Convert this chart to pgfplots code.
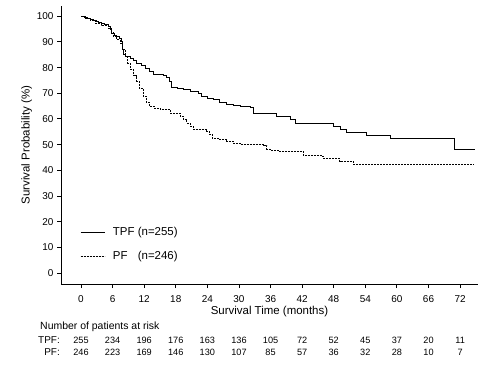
\documentclass[border=0pt]{standalone}
\usepackage{fontspec}
\setmainfont{Liberation Sans}
\usepackage{pgfplots}
\pgfplotsset{compat=1.18}
\begin{document}
\begin{tikzpicture}[x=1bp,y=1bp]
\useasboundingbox (0,0) rectangle (491,368);
\begin{axis}[
  at={(61bp,84bp)}, anchor=south west,
  scale only axis, width=417bp, height=278bp,
  xmin=-3.8, xmax=75.4, ymin=-4.3, ymax=104,
  axis x line*=bottom, axis y line*=left,
  axis line style={line width=0.9bp, black},
  xtick={0,6,...,72}, ytick={0,10,...,100},
  tick align=outside, major tick length=4bp,
  tick style={line width=0.9bp, black},
  ticklabel style={font=\fontsize{10}{11}\selectfont},
  xticklabel style={yshift=-4bp},
  /pgf/number format/assume math mode=true,
  xlabel={Survival Time (months)}, ylabel={Survival Probability (\%)},
  label style={font=\fontsize{11.5}{13}\selectfont},
  xlabel style={yshift=3bp},
  ylabel style={yshift=-2bp},
  clip=false,
  legend style={at={(axis cs:-0.2,18.5)}, anchor=north west, draw=none, fill=none,
    inner sep=0pt, row sep=10bp, font=\fontsize{11.5}{13}\selectfont, cells={anchor=west}},
  legend image code/.code={\draw[#1] (0bp,0bp) -- (24bp,0bp); \path (30bp,0bp);},
]
\addplot[const plot, black, line width=0.85bp] coordinates {
(0,100) (0.6,99.6) (1.2,99.2) (1.7,98.9) (2.3,98.4) (2.9,98.0) (3.4,97.6) (3.9,97.3)
(4.5,96.8) (5.2,96.0) (5.5,94.8) (5.8,93.2) (6.3,92.6) (6.8,92.1) (7.3,91.2) (7.7,90.2)
(7.8,88.5) (7.9,87.0) (8.0,85.2) (8.5,84.4) (9.3,83.7) (10.0,82.8) (10.6,81.8) (11.4,80.8)
(12.2,79.8) (12.9,78.5) (13.7,77.2) (15.6,76.8) (16.3,76.0) (16.8,74.5) (17.2,72.1)
(18.4,71.7) (19.4,71.4) (20.8,70.8) (22.3,70.1) (22.9,68.6) (24.0,68.0) (25.1,67.5)
(26.3,66.6) (27.7,65.8) (29.0,65.2) (30.2,64.9) (32.1,64.3) (32.7,62.3) (37.2,61.0)
(39.7,59.7) (40.7,58.4) (47.9,57.1) (49.2,56.1) (50.5,54.8) (54.3,53.6) (58.8,52.3)
(71.0,48.1) (74.8,48.1)
};
\addlegendentry{TPF (n=255)}
\addplot[const plot, black, line width=0.85bp, dash pattern=on 2bp off 1bp] coordinates {
(0,100) (0.8,99.3) (1.7,98.4) (2.7,97.3) (3.8,96.5) (5.2,95.4) (5.7,93.8) (6.1,92.1)
(6.8,90.8) (7.4,89.6) (7.9,87.0) (8.4,84.4) (8.9,81.8) (9.3,79.2) (10.0,76.8) (10.6,74.6)
(11.1,71.8) (11.8,68.8) (12.4,66.5) (13.0,64.9) (13.9,64.2) (15.0,63.6) (16.9,62.3)
(18.8,61.0) (19.5,59.7) (20.1,58.4) (20.7,57.1) (21.3,55.8) (23.9,55.2) (24.4,53.9)
(24.9,52.6) (26.3,52.0) (27.7,51.3) (29.0,50.6) (30.2,50.0) (34.6,49.6) (35.3,48.1)
(35.9,47.8) (37.5,47.4) (42.2,45.8) (45.7,45.4) (46.0,44.8) (49.1,43.5) (51.7,42.4)
(74.5,42.4)
};
\addlegendentry{PF\phantom{T} (n=246)}
\addplot[draw=none, mark=none, forget plot, nodes near coords, point meta=explicit symbolic,
  nodes near coords style={anchor=center, font=\fontsize{9.2}{10}\selectfont}] coordinates {
(0,-26.1)[255] (6,-26.1)[234] (12,-26.1)[196] (18,-26.1)[176] (24,-26.1)[163] (30,-26.1)[136]
(36,-26.1)[105] (42,-26.1)[72] (48,-26.1)[52] (54,-26.1)[45] (60,-26.1)[37] (66,-26.1)[20] (72,-26.1)[11]
};
\addplot[draw=none, mark=none, forget plot, nodes near coords, point meta=explicit symbolic,
  nodes near coords style={anchor=center, font=\fontsize{9.2}{10}\selectfont}] coordinates {
(0,-30.8)[246] (6,-30.8)[223] (12,-30.8)[169] (18,-30.8)[146] (24,-30.8)[130] (30,-30.8)[107]
(36,-30.8)[85] (42,-30.8)[57] (48,-30.8)[36] (54,-30.8)[32] (60,-30.8)[28] (66,-30.8)[10] (72,-30.8)[7]
};
\end{axis}
\node[anchor=west, font=\fontsize{10.5}{12}\selectfont, inner sep=0pt] at (40,41) {Number of patients at risk};
\node[anchor=east, font=\fontsize{10}{12}\selectfont, inner sep=0pt] at (60,28) {TPF:};
\node[anchor=east, font=\fontsize{10}{12}\selectfont, inner sep=0pt] at (60,16) {PF:};
\end{tikzpicture}
\end{document}
